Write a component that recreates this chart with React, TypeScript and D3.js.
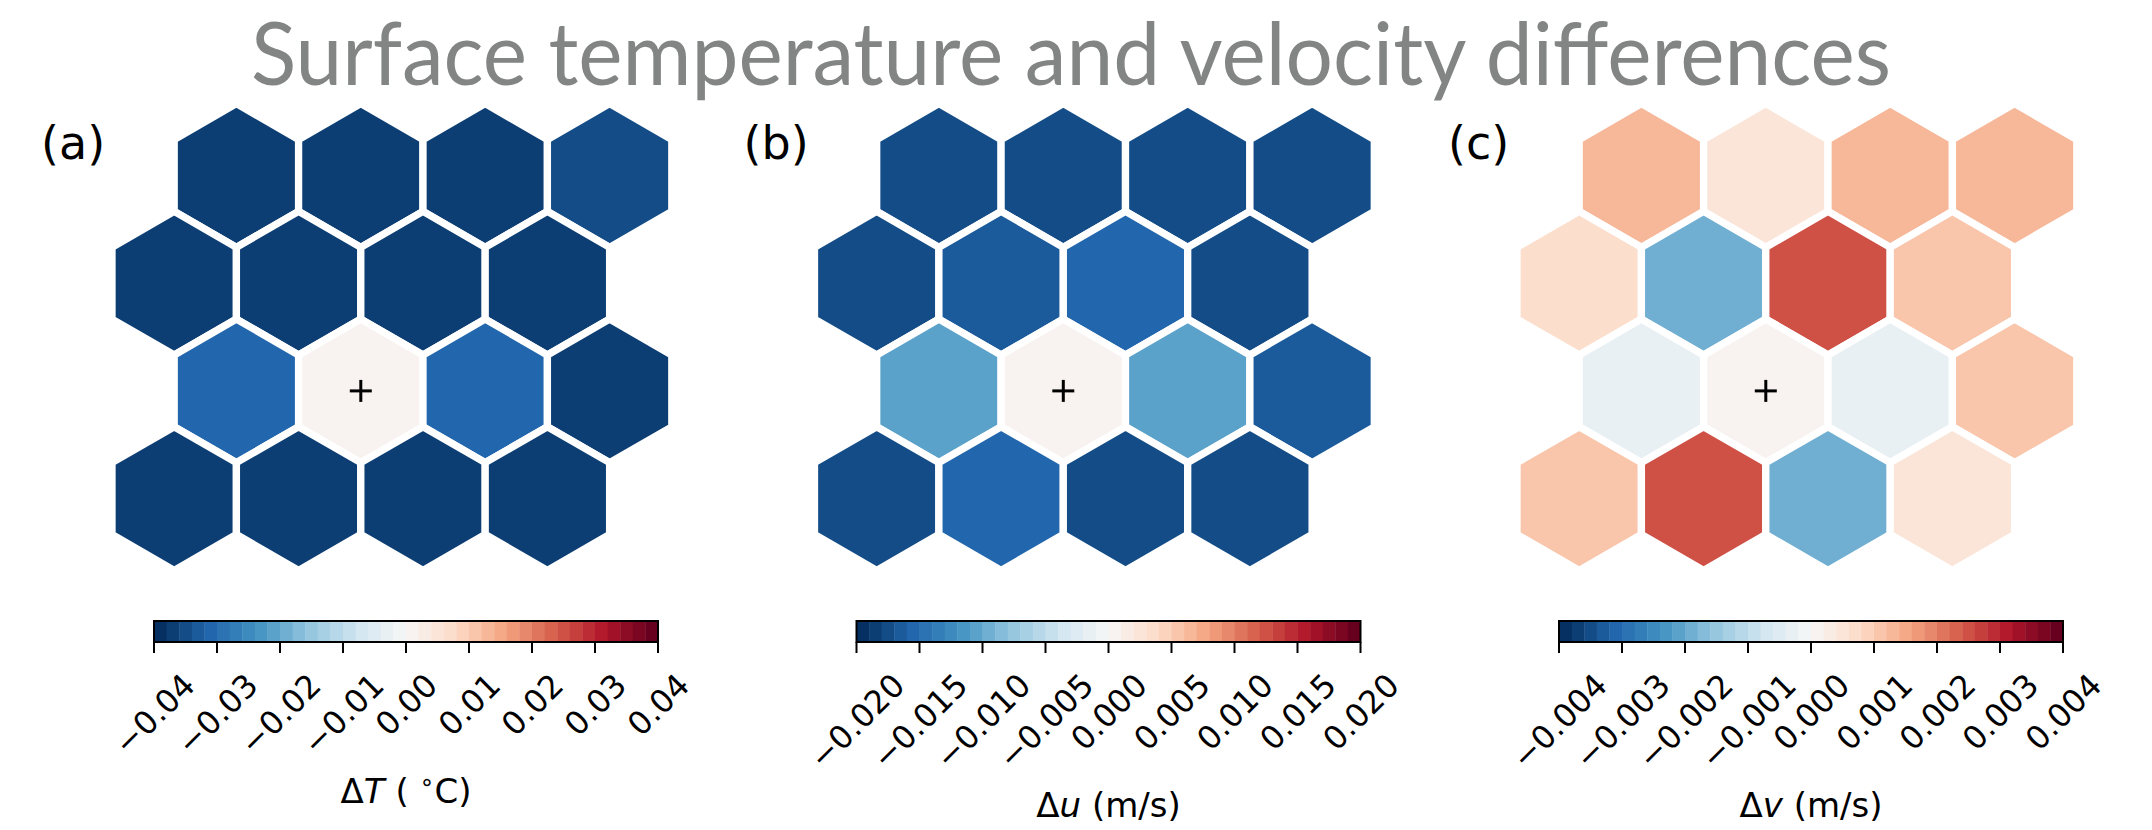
import React from 'react';
import * as d3 from 'd3';

// ---------- data ----------
const TITLE = 'Surface temperature and velocity differences';
const panelLetters = ['(a)', '(b)', '(c)'];

// hex neighbourhood values, 4 rows x 4 hexes (rows 1 and 3 are shifted half a hex right)
const deltaT = [
  [-0.037, -0.037, -0.037, -0.035],
  [-0.037, -0.037, -0.037, -0.037],
  [-0.031, 0.0, -0.031, -0.037],
  [-0.037, -0.037, -0.037, -0.037],
];
const deltaU = [
  [-0.0175, -0.0175, -0.0175, -0.0175],
  [-0.0175, -0.0165, -0.0155, -0.0175],
  [-0.0105, 0.0, -0.0105, -0.0165],
  [-0.0175, -0.0155, -0.0175, -0.0175],
];
const deltaV = [
  [0.0013, 0.0005, 0.0013, 0.0013],
  [0.0007, -0.0019, 0.0025, 0.0011],
  [-0.0003, 0.0, -0.0003, 0.0011],
  [0.0011, 0.0025, -0.0019, 0.0005],
];
const rowShift = [0.5, 0, 0.5, 0];
const centerCell = { row: 2, col: 1 };

const vmaxT = 0.04;
const vmaxU = 0.02;
const vmaxV = 0.004;

const ticksT = [-0.04, -0.03, -0.02, -0.01, 0, 0.01, 0.02, 0.03, 0.04];
const tickLabelsT = ['−0.04', '−0.03', '−0.02', '−0.01', '0.00', '0.01', '0.02', '0.03', '0.04'];
const ticksU = [-0.02, -0.015, -0.01, -0.005, 0, 0.005, 0.01, 0.015, 0.02];
const tickLabelsU = ['−0.020', '−0.015', '−0.010', '−0.005', '0.000', '0.005', '0.010', '0.015', '0.020'];
const ticksV = [-0.004, -0.003, -0.002, -0.001, 0, 0.001, 0.002, 0.003, 0.004];
const tickLabelsV = ['−0.004', '−0.003', '−0.002', '−0.001', '0.000', '0.001', '0.002', '0.003', '0.004'];

// RdBu_r control colours (ColorBrewer), 40 discrete levels
const RDBU_R = ['#053061', '#2166ac', '#4393c3', '#92c5de', '#d1e5f0', '#f7f7f7', '#fddbc7', '#f4a582', '#d6604d', '#b2182b', '#67001f'];
const N_LEVELS = 40;

// ---------- layout ----------
const W = 2152;
const H = 830;
const PANEL_DX = 702.5;
const HEX_X0 = 174.2; // centre x of col 0 in unshifted rows (panel a)
const HEX_DX = 124.4;
const HEX_Y0 = 175.5;
const HEX_DY = 107.7;
const HEX_R = HEX_DX / Math.sqrt(3);
const CB_X0 = 154;
const CB_X1 = 658;
const CB_TOP = 621;
const CB_BOT = 642;
const TICK_LEN = 11;
const TICK_FS = 32;
const LABEL_FS = 34;
const LETTER_FS = 46;

const base = d3
  .scaleLinear<string>()
  .domain(d3.range(RDBU_R.length).map((i) => i / (RDBU_R.length - 1)))
  .range(RDBU_R)
  .interpolate(d3.interpolateRgb);

const levelColor = (lvl: number) => base(lvl / (N_LEVELS - 1));

const charW: Record<string, number> = { '.': 0.318, '−': 0.838 };
const textW = (s: string) => s.split('').reduce((a, c) => a + (charW[c] ?? 0.636), 0);

const hexPath = (() => {
  const pts = d3.range(6).map((k) => {
    const a = (Math.PI / 180) * (-90 + 60 * k);
    return [HEX_R * Math.cos(a), HEX_R * Math.sin(a)] as [number, number];
  });
  return d3.line()(pts.concat([pts[0]])) + 'Z';
})();

type PanelProps = {
  idx: number;
  values: number[][];
  vmax: number;
  ticks: number[];
  tickLabels: string[];
  label: React.ReactNode;
};

function Panel({ idx, values, vmax, ticks, tickLabels, label }: PanelProps) {
  const off = idx * PANEL_DX;
  const x = d3.scaleLinear().domain([0, 1]).range([HEX_X0 + off, HEX_X0 + HEX_DX + off]);
  const y = d3.scaleLinear().domain([0, 1]).range([HEX_Y0, HEX_Y0 + HEX_DY]);
  const q = d3.scaleQuantize<number>().domain([-vmax, vmax]).range(d3.range(N_LEVELS));
  const cbx = d3.scaleLinear().domain([-vmax, vmax]).range([CB_X0 + off, CB_X1 + off]);
  const step = (2 * vmax) / N_LEVELS;
  const levels = d3.range(N_LEVELS);

  const labelDims = tickLabels.map((s) => {
    const w = (textW(s) - 0.1) * TICK_FS;
    const h = 0.73 * TICK_FS;
    return { w, h };
  });
  const tickTop = 672;
  const maxBottom = d3.max(labelDims, (d) => tickTop + 0.7071 * (d.w + d.h)) as number;
  const cbCenter = (cbx(-vmax) + cbx(vmax)) / 2;

  return (
    <g>
      <text x={41 + off + (idx === 2 ? 2 : 0)} y={159} fontSize={LETTER_FS} fontFamily="DejaVu Sans" fill="#000">
        {panelLetters[idx]}
      </text>
      {values.map((row, r) =>
        row.map((v, c) => (
          <path
            key={`h${r}-${c}`}
            d={hexPath}
            transform={`translate(${x(c + rowShift[r])},${y(r)})`}
            fill={levelColor(q(v))}
            stroke="#ffffff"
            strokeWidth={7.3}
            strokeLinejoin="miter"
          />
        ))
      )}
      <g
        transform={`translate(${x(centerCell.col + rowShift[centerCell.row])},${y(centerCell.row)})`}
        stroke="#000"
        strokeWidth={3}
      >
        <line x1={-11} x2={11} y1={0} y2={0} />
        <line x1={0} x2={0} y1={-11} y2={11} />
      </g>
      {/* colorbar */}
      {levels.map((l) => (
        <rect
          key={`cb${l}`}
          x={cbx(-vmax + l * step)}
          y={CB_TOP}
          width={cbx(-vmax + (l + 1) * step) - cbx(-vmax + l * step) + 0.4}
          height={CB_BOT - CB_TOP}
          fill={levelColor(l)}
        />
      ))}
      <rect
        x={cbx(-vmax)}
        y={CB_TOP}
        width={cbx(vmax) - cbx(-vmax)}
        height={CB_BOT - CB_TOP}
        fill="none"
        stroke="#000"
        strokeWidth={2}
      />
      {ticks.map((t, i) => {
        const tx = cbx(t);
        const d = labelDims[i];
        const cy = tickTop + (0.7071 * (d.w + d.h)) / 2;
        return (
          <g key={`t${i}`}>
            <line x1={tx} x2={tx} y1={CB_BOT} y2={CB_BOT + TICK_LEN} stroke="#000" strokeWidth={2} />
            <text
              transform={`translate(${tx},${cy}) rotate(-45)`}
              textAnchor="middle"
              dy="0.365em"
              fontSize={TICK_FS}
              fontFamily="DejaVu Sans"
              fill="#000"
            >
              {tickLabels[i]}
            </text>
          </g>
        );
      })}
      <text
        x={cbCenter}
        y={maxBottom + 47.5}
        textAnchor="middle"
        fontSize={LABEL_FS}
        fontFamily="DejaVu Sans"
        fill="#000"
      >
        {label}
      </text>
    </g>
  );
}

export default function App() {
  return (
    <svg
      width={W}
      height={H}
      viewBox={`0 0 ${W} ${H}`}
      style={{ position: 'absolute', left: 0, top: 0, background: '#fff' }}
    >
      <rect x={0} y={0} width={W} height={H} fill="#fff" />
      <text
        x={1071}
        y={85}
        textAnchor="middle"
        fontSize={88}
        fontFamily="Lato"
        fill="#838585"
        textLength={1640}
        lengthAdjust="spacingAndGlyphs"
      >
        {TITLE}
      </text>
      <Panel
        idx={0}
        values={deltaT}
        vmax={vmaxT}
        ticks={ticksT}
        tickLabels={tickLabelsT}
        label={
          <>
            <tspan>Δ</tspan>
            <tspan fontStyle="oblique">T</tspan>
            <tspan> ( </tspan>
            <tspan fontSize={LABEL_FS * 0.7} dy={-13}>∘</tspan>
            <tspan dy={13}>C)</tspan>
          </>
        }
      />
      <Panel
        idx={1}
        values={deltaU}
        vmax={vmaxU}
        ticks={ticksU}
        tickLabels={tickLabelsU}
        label={
          <>
            <tspan>Δ</tspan>
            <tspan fontStyle="oblique">u</tspan>
            <tspan> (m/s)</tspan>
          </>
        }
      />
      <Panel
        idx={2}
        values={deltaV}
        vmax={vmaxV}
        ticks={ticksV}
        tickLabels={tickLabelsV}
        label={
          <>
            <tspan>Δ</tspan>
            <tspan fontStyle="oblique">v</tspan>
            <tspan> (m/s)</tspan>
          </>
        }
      />
    </svg>
  );
}
